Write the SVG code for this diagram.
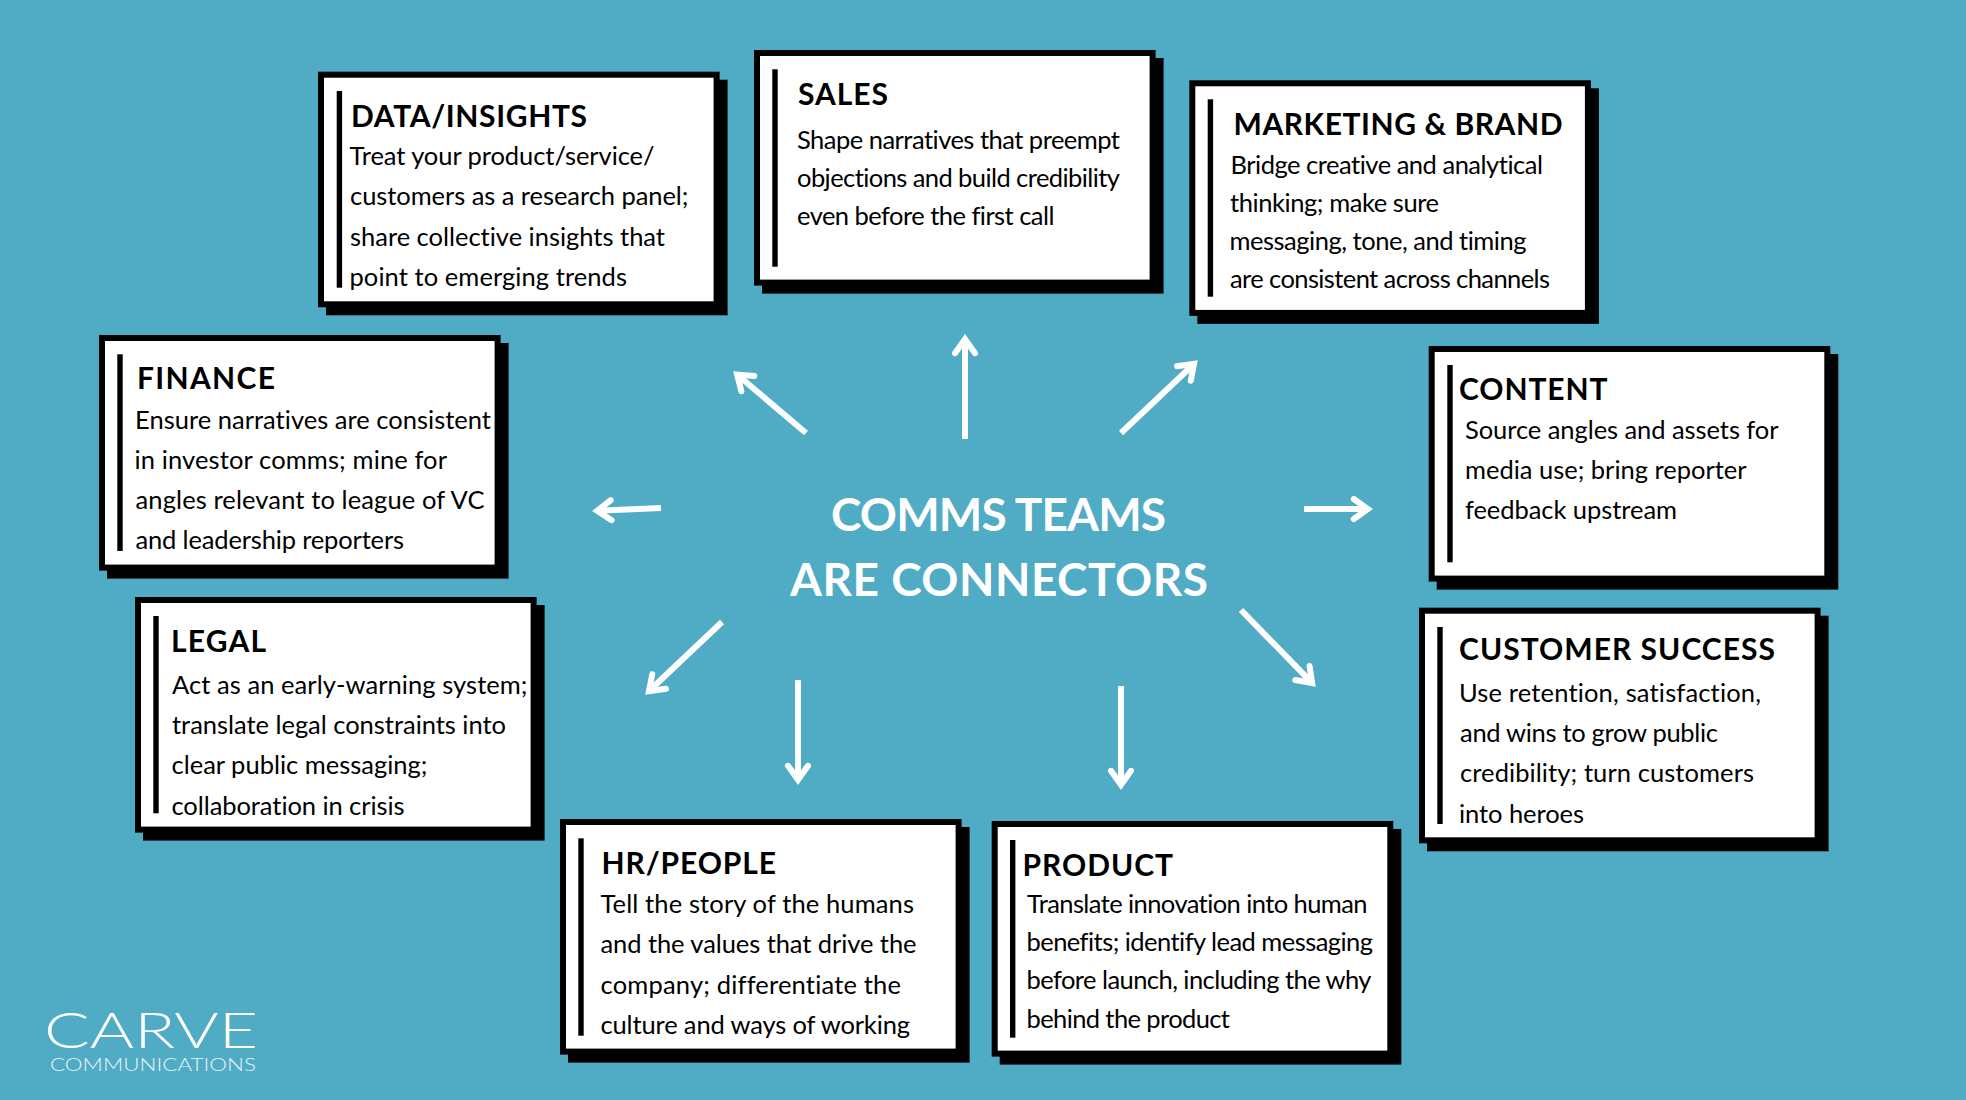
<svg xmlns="http://www.w3.org/2000/svg" width="1966" height="1100" viewBox="0 0 1966 1100">
<defs>
<style>
text{font-family:"Lato","Liberation Sans",sans-serif;fill:#000;font-variant-ligatures:none}
.t{font-size:30px;font-weight:700}
.b{font-size:25.500px;font-weight:400}
.h{font-size:46px;font-weight:700;fill:#fff}
.shadow{fill:#000}
.box{fill:#fff;stroke:#000;stroke-width:6}
.bar{fill:#000}
.arrow{fill:none;stroke:#fff;stroke-width:6;marker-end:url(#head)}
.logo1{font-size:49px;font-weight:300;fill:#fff}
.logo2{font-size:17px;font-weight:300;fill:#e8f4f8}
</style>
<marker id="head" markerUnits="userSpaceOnUse" markerWidth="40" markerHeight="40" refX="23.200" refY="20" orient="auto">
<path d="M9 10L23 20L9 30" fill="none" stroke="#fff" stroke-width="6" stroke-linecap="round"/>
</marker>
</defs>
<rect width="1966" height="1100" fill="#50abc4"/>
<g id="connectors">
<line class="arrow" x1="965" y1="439" x2="965" y2="339"/>
<line class="arrow" x1="806" y1="433" x2="737" y2="374.500"/>
<line class="arrow" x1="1121" y1="433" x2="1194.200" y2="363.700"/>
<line class="arrow" x1="661" y1="508" x2="597" y2="510.800"/>
<line class="arrow" x1="1304" y1="509" x2="1368" y2="509"/>
<line class="arrow" x1="1241" y1="610" x2="1312.300" y2="683.200"/>
<line class="arrow" x1="722" y1="622" x2="648.800" y2="691.300"/>
<line class="arrow" x1="798" y1="680" x2="798" y2="780"/>
<line class="arrow" x1="1121" y1="686" x2="1121" y2="785"/>
</g>
<g id="center-title">
<text class="h" x="831" y="531" textLength="335">COMMS TEAMS</text>
<text class="h" x="790" y="596" textLength="418">ARE CONNECTORS</text>
</g>
<g id="data-insights">
<rect class="shadow" x="326" y="79.700" width="401.600" height="235.600"/><rect class="box" x="321" y="74.700" width="395.600" height="229.600"/><rect class="bar" x="336.700" y="91" width="5.400" height="196.700"/>
<text class="t" x="351" y="126.500" textLength="236">DATA/INSIGHTS</text>
<text class="b" x="349.500" y="165" textLength="305">Treat your product/service/</text>
<text class="b" x="350" y="205.400" textLength="338.500">customers as a research panel;</text>
<text class="b" x="350" y="245.700" textLength="315">share collective insights that</text>
<text class="b" x="349.500" y="285.700" textLength="277.500">point to emerging trends</text>
</g>
<g id="sales">
<rect class="shadow" x="762" y="58" width="401.600" height="235.600"/><rect class="box" x="757" y="53" width="395.600" height="229.600"/><rect class="bar" x="772.300" y="69.300" width="5.400" height="197.400"/>
<text class="t" x="798" y="105.300" textLength="90">SALES</text>
<text class="b" x="797" y="148.700" textLength="323">Shape narratives that preempt</text>
<text class="b" x="797" y="186.700" textLength="323">objections and build credibility</text>
<text class="b" x="797" y="225" textLength="257.500">even before the first call</text>
</g>
<g id="marketing-brand">
<rect class="shadow" x="1197.300" y="88.300" width="401.600" height="235.600"/><rect class="box" x="1192.300" y="83.300" width="395.600" height="229.600"/><rect class="bar" x="1207.700" y="99.300" width="5.400" height="197.400"/>
<text class="t" x="1233.500" y="135.300" textLength="329">MARKETING &amp; BRAND</text>
<text class="b" x="1230.500" y="174.300" textLength="312.500">Bridge creative and analytical</text>
<text class="b" x="1230" y="212.300" textLength="209">thinking; make sure</text>
<text class="b" x="1229.500" y="250.300" textLength="297">messaging, tone, and timing</text>
<text class="b" x="1230" y="288.300" textLength="320">are consistent across channels</text>
</g>
<g id="content">
<rect class="shadow" x="1436.700" y="354" width="401.600" height="235.600"/><rect class="box" x="1431.700" y="349" width="395.600" height="229.600"/><rect class="bar" x="1447.300" y="365" width="5.400" height="197.300"/>
<text class="t" x="1459" y="400.300" textLength="148.500">CONTENT</text>
<text class="b" x="1465" y="439.300" textLength="313.500">Source angles and assets for</text>
<text class="b" x="1465" y="479.300" textLength="281.500">media use; bring reporter</text>
<text class="b" x="1465" y="519.300" textLength="212">feedback upstream</text>
</g>
<g id="customer-success">
<rect class="shadow" x="1427" y="615.700" width="401.600" height="235.600"/><rect class="box" x="1422" y="610.700" width="395.600" height="229.600"/><rect class="bar" x="1437.300" y="627" width="5.400" height="197"/>
<text class="t" x="1459" y="660" textLength="316">CUSTOMER SUCCESS</text>
<text class="b" x="1459" y="702" textLength="302">Use retention, satisfaction,</text>
<text class="b" x="1460" y="742" textLength="258">and wins to grow public</text>
<text class="b" x="1460" y="782" textLength="294">credibility; turn customers</text>
<text class="b" x="1459" y="822.500" textLength="125">into heroes</text>
</g>
<g id="product">
<rect class="shadow" x="999.700" y="829" width="401.600" height="235.600"/><rect class="box" x="994.700" y="824" width="395.600" height="229.600"/><rect class="bar" x="1010" y="840" width="5.400" height="197.700"/>
<text class="t" x="1022.500" y="876" textLength="150.500">PRODUCT</text>
<text class="b" x="1027" y="912.700" textLength="340.500">Translate innovation into human</text>
<text class="b" x="1026.500" y="951" textLength="346.500">benefits; identify lead messaging</text>
<text class="b" x="1026.500" y="989.300" textLength="345">before launch, including the why</text>
<text class="b" x="1026.500" y="1027.700" textLength="203.500">behind the product</text>
</g>
<g id="hr-people">
<rect class="shadow" x="568" y="827" width="401.600" height="235.600"/><rect class="box" x="563" y="822" width="395.600" height="229.600"/><rect class="bar" x="578.300" y="838.300" width="5.400" height="197.400"/>
<text class="t" x="601.500" y="874" textLength="174.500">HR/PEOPLE</text>
<text class="b" x="600.500" y="912.700" textLength="313.500">Tell the story of the humans</text>
<text class="b" x="600.500" y="952.700" textLength="316">and the values that drive the</text>
<text class="b" x="600.500" y="994" textLength="300.500">company; differentiate the</text>
<text class="b" x="600.500" y="1033.700" textLength="309.500">culture and ways of working</text>
</g>
<g id="legal">
<rect class="shadow" x="143" y="605" width="401.600" height="235.600"/><rect class="box" x="138" y="600" width="395.600" height="229.600"/><rect class="bar" x="153.300" y="616" width="5.400" height="197.300"/>
<text class="t" x="171" y="652" textLength="95">LEGAL</text>
<text class="b" x="172" y="694" textLength="355.500">Act as an early-warning system;</text>
<text class="b" x="172" y="734" textLength="334">translate legal constraints into</text>
<text class="b" x="171.500" y="774.300" textLength="256">clear public messaging;</text>
<text class="b" x="171.500" y="814.700" textLength="233">collaboration in crisis</text>
</g>
<g id="finance">
<rect class="shadow" x="107" y="343" width="401.600" height="235.600"/><rect class="box" x="102" y="338" width="395.600" height="229.600"/><rect class="bar" x="117.300" y="354.300" width="5.400" height="196.700"/>
<text class="t" x="137" y="389" textLength="138">FINANCE</text>
<text class="b" x="135" y="428.700" textLength="356">Ensure narratives are consistent</text>
<text class="b" x="134.500" y="469.300" textLength="312.500">in investor comms; mine for</text>
<text class="b" x="135.500" y="508.700" textLength="349">angles relevant to league of VC</text>
<text class="b" x="135.500" y="548.700" textLength="268.500">and leadership reporters</text>
</g>
<g id="logo">
<text class="logo1" x="44" y="1048" textLength="214" lengthAdjust="spacingAndGlyphs">CARVE</text>
<text class="logo2" x="50" y="1071" textLength="206" lengthAdjust="spacingAndGlyphs">COMMUNICATIONS</text>
</g>
</svg>
